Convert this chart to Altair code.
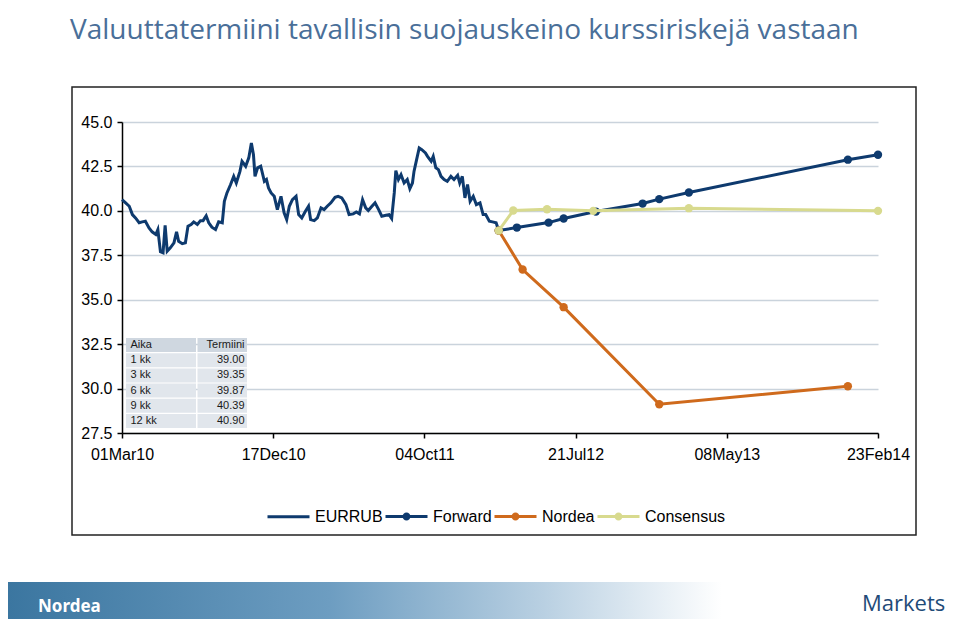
import altair as alt
import pandas as pd

# ---------------- data ----------------
eur_dates = [
    "2010-03-01", "2010-03-08", "2010-03-15", "2010-03-21", "2010-03-27", "2010-04-03",
    "2010-04-09", "2010-04-15", "2010-04-22", "2010-04-28", "2010-05-05", "2010-05-09",
    "2010-05-14", "2010-05-19", "2010-05-23", "2010-05-27", "2010-06-02", "2010-06-09",
    "2010-06-14", "2010-06-18", "2010-06-25", "2010-07-01", "2010-07-06", "2010-07-12",
    "2010-07-17", "2010-07-24", "2010-07-30", "2010-08-04", "2010-08-10", "2010-08-15",
    "2010-08-21", "2010-08-28", "2010-09-03", "2010-09-10", "2010-09-14", "2010-09-19",
    "2010-09-26", "2010-10-02", "2010-10-07", "2010-10-14", "2010-10-18", "2010-10-25",
    "2010-10-31", "2010-11-05", "2010-11-09", "2010-11-12", "2010-11-17", "2010-11-23",
    "2010-11-30", "2010-12-04", "2010-12-08", "2010-12-13", "2010-12-19", "2010-12-25",
    "2011-01-01", "2011-01-07", "2011-01-12", "2011-01-17", "2011-01-23", "2011-01-30",
    "2011-02-04", "2011-02-10", "2011-02-17", "2011-02-23", "2011-02-27", "2011-03-06",
    "2011-03-12", "2011-03-19", "2011-03-25", "2011-03-31", "2011-04-07", "2011-04-15",
    "2011-04-21", "2011-04-28", "2011-05-06", "2011-05-12", "2011-05-20", "2011-05-26",
    "2011-06-01", "2011-06-07", "2011-06-13", "2011-06-18", "2011-06-25", "2011-07-01",
    "2011-07-08", "2011-07-14", "2011-07-22", "2011-07-28", "2011-08-02", "2011-08-07",
    "2011-08-10", "2011-08-15", "2011-08-20", "2011-08-26", "2011-09-01", "2011-09-06",
    "2011-09-11", "2011-09-14", "2011-09-19", "2011-09-24", "2011-09-29", "2011-10-06",
    "2011-10-10", "2011-10-17", "2011-10-21", "2011-10-26", "2011-10-31", "2011-11-05",
    "2011-11-11", "2011-11-17", "2011-11-24", "2011-11-30", "2011-12-07", "2011-12-11",
    "2011-12-16", "2011-12-21", "2011-12-26", "2011-12-31", "2012-01-06", "2012-01-12",
    "2012-01-19", "2012-01-25", "2012-01-30", "2012-02-06", "2012-02-12", "2012-02-19",
    "2012-02-24",
]
eur_values = [
    40.63, 40.45, 40.26, 39.79, 39.60, 39.33,
    39.38, 39.42, 39.04, 38.82, 38.67, 38.95,
    37.70, 37.64, 39.19, 37.73, 37.92, 38.20,
    38.82, 38.29, 38.15, 38.20, 39.14, 39.23,
    39.38, 39.23, 39.45, 39.45, 39.72, 39.33,
    39.08, 38.95, 39.38, 39.33, 40.54, 41.01,
    41.48, 41.94, 41.57, 42.22, 42.79, 42.51,
    42.98, 43.82, 43.16, 41.94, 42.42, 42.51,
    41.66, 41.76, 41.29, 41.01, 40.82, 40.07,
    40.82, 39.89, 39.51, 40.26, 40.63, 40.82,
    39.79, 39.60, 39.98, 40.26, 39.51, 39.45,
    39.60, 40.17, 40.07, 40.26, 40.45, 40.76,
    40.82, 40.73, 40.35, 39.79, 39.83, 39.94,
    39.83, 40.63, 40.17, 40.02, 40.26, 40.45,
    40.07, 39.70, 39.75, 39.79, 39.57, 41.01,
    42.26, 41.76, 42.04, 41.57, 41.76, 41.25,
    41.57, 42.22, 42.88, 43.54, 43.44, 43.26,
    43.07, 42.79, 43.07, 42.42, 42.32, 41.94,
    41.76, 41.66, 41.94, 41.76, 42.00, 41.57,
    41.94, 40.73, 41.48, 40.54, 40.82, 40.35,
    40.45, 39.79, 39.79, 39.42, 39.38, 39.33,
    38.89,
]

forward_dates = ["2012-02-24", "2012-03-30", "2012-05-30", "2012-06-28", "2012-08-29",
                 "2012-11-27", "2012-12-29", "2013-02-24", "2013-12-27", "2014-02-23"]
forward_values = [38.89, 39.06, 39.34, 39.57, 39.96, 40.41, 40.66, 41.03, 42.88, 43.16]

nordea_dates = ["2012-02-24", "2012-04-10", "2012-06-28", "2012-12-29", "2013-12-27"]
nordea_values = [38.89, 36.70, 34.58, 29.12, 30.13]

consensus_dates = ["2012-02-24", "2012-03-23", "2012-05-27", "2012-08-24", "2013-02-24", "2014-02-23"]
consensus_values = [38.89, 40.02, 40.09, 40.00, 40.15, 40.00]

series_names = ["EURRUB", "Forward", "Nordea", "Consensus"]
series_colors = ["#0e3a6e", "#0e3a6e", "#cf6a1c", "#d8da8e"]

table_labels = ["Aika", "1 kk", "3 kk", "6 kk", "9 kk", "12 kk"]
table_values = ["Termiini", "39.00", "39.35", "39.87", "40.39", "40.90"]

x_tick_dates = ["2010-03-01", "2010-12-17", "2011-10-04", "2012-07-21", "2013-05-08", "2014-02-23"]
y_ticks = [27.5, 30.0, 32.5, 35.0, 37.5, 40.0, 42.5, 45.0]

title_text = "Valuuttatermiini tavallisin suojauskeino kurssiriskejä vastaan"

# ---------------- frames ----------------
def frame(dates, values, name):
    return pd.DataFrame({"date": pd.to_datetime(dates), "value": values, "series": name})

df_eur = frame(eur_dates, eur_values, "EURRUB")
df_fc = pd.concat([
    frame(forward_dates, forward_values, "Forward"),
    frame(nordea_dates, nordea_values, "Nordea"),
    frame(consensus_dates, consensus_values, "Consensus"),
], ignore_index=True)
df_tab = pd.DataFrame({"label": table_labels, "value": table_values})

def dt(s):
    t = pd.Timestamp(s)
    return alt.DateTime(year=t.year, month=t.month, date=t.day)

FONT = "Liberation Sans"
W, H = 756, 311

x_enc = alt.X(
    "date:T",
    scale=alt.Scale(domain=[dt(x_tick_dates[0]), dt(x_tick_dates[-1])]),
    axis=alt.Axis(values=[dt(d) for d in x_tick_dates], format="%d%b%y", grid=False,
                  title=None, labelFont=FONT, labelFontSize=16, labelColor="black",
                  labelPadding=8, tickSize=5, tickColor="black", tickWidth=1.5,
                  domainColor="black", domainWidth=1.5, labelOverlap=False,
                  labelFlush=False, labelBound=False),
)
y_enc = alt.Y(
    "value:Q",
    scale=alt.Scale(domain=[27.5, 45.0], nice=False, zero=False),
    axis=alt.Axis(values=y_ticks, format=".1f", grid=True, gridColor="#cad3dc",
                  gridWidth=1.5, title=None, labelFont=FONT, labelFontSize=16,
                  labelColor="black", labelPadding=5, tickSize=5, tickColor="black",
                  tickWidth=1.5, domainColor="black", domainWidth=1.5),
)
color_scale = alt.Scale(domain=series_names, range=series_colors)
color_nolegend = alt.Color("series:N", scale=color_scale, legend=None)

eur_line = alt.Chart(df_eur).mark_line(strokeWidth=3).encode(x=x_enc, y=y_enc, color=color_nolegend)

fc_layers = []
for name in ["Forward", "Nordea", "Consensus"]:
    base = alt.Chart(df_fc).transform_filter(alt.datum.series == name)
    fc_layers.append(base.mark_line(strokeWidth=3).encode(x=x_enc, y=y_enc, color=color_nolegend))
    fc_layers.append(base.mark_circle(size=70, opacity=1).encode(x=x_enc, y=y_enc, color=color_nolegend))

main = alt.layer(eur_line, *fc_layers)

# legend only layer (draws no marks), custom line / line+dot symbols
path_line = "M-1,0L1,0"
path_dot = ("M-1,0L1,0"
            "M0.119,0A0.119,0.119,0,1,1,-0.119,0A0.119,0.119,0,1,1,0.119,0"
            "M0.048,0A0.048,0.048,0,1,1,-0.048,0A0.048,0.048,0,1,1,0.048,0")
leg = alt.Legend(orient="none", legendX=144, legendY=372, direction="horizontal",
                 labelFont=FONT, labelFontSize=16, labelColor="black", labelOffset=4,
                 columnPadding=-4, symbolSize=1764, symbolStrokeWidth=3, symbolOpacity=1)
legend_layer = alt.Chart(df_fc).transform_filter("false").mark_point(
    filled=False, strokeWidth=3, opacity=1, size=1764
).encode(
    color=alt.Color("series:N", scale=color_scale, legend=leg, title=None),
    shape=alt.Shape("series:N", scale=alt.Scale(domain=series_names,
                    range=[path_line, path_dot, path_dot, path_dot]), legend=leg, title=None),
)

# ---------------- small table ----------------
row_y = alt.Y("label:N", sort=table_labels,
              scale=alt.Scale(type="band", domain=table_labels, range=[216, 306],
                              paddingInner=0.08, paddingOuter=0), axis=None)
cell_fill = alt.condition(alt.datum.label == "Aika", alt.value("#cfd7e0"), alt.value("#e1e6ec"))
tab_base = alt.Chart(df_tab)
tab_left = tab_base.mark_rect().encode(y=row_y, x=alt.value(4), x2=alt.value(74), color=cell_fill)
tab_right = tab_base.mark_rect().encode(y=row_y, x=alt.value(75.5), x2=alt.value(125), color=cell_fill)
tab_txt_l = tab_base.mark_text(align="left", baseline="middle", font=FONT, fontSize=11,
                               color="#1a1a1a").encode(y=row_y, x=alt.value(8.5), text="label:N")
tab_txt_r = tab_base.mark_text(align="right", baseline="middle", font=FONT, fontSize=11,
                               color="#1a1a1a").encode(y=row_y, x=alt.value(122.5), text="value:N")
table = alt.layer(tab_left, tab_right, tab_txt_l, tab_txt_r)

# ---------------- slide decoration ----------------
one = alt.Data(values=[{"k": 0}])
frame_box = alt.Chart(one).mark_rect(fill="transparent", stroke="#222222", strokeWidth=1.5).encode(
    x=alt.value(-50), x2=alt.value(794), y=alt.value(-35), y2=alt.value(413))
title = alt.Chart(one).mark_text(text=title_text, align="left", baseline="alphabetic",
                                 font="Open Sans", fontSize=28, color="#4a6f99").encode(
    x=alt.value(-52), y=alt.value(-83))
band = alt.Chart(one).mark_rect(
    fill=alt.LinearGradient(gradient="linear", x1=0, x2=1, y1=0, y2=0, stops=[
        alt.GradientStop(offset=0, color="#3b76a0"),
        alt.GradientStop(offset=0.45, color="#6d9dc1"),
        alt.GradientStop(offset=0.75, color="#b9d0e2"),
        alt.GradientStop(offset=1, color="#ffffff"),
    ])).encode(x=alt.value(-114), x2=alt.value(600), y=alt.value(460), y2=alt.value(497))
nordea_txt = alt.Chart(one).mark_text(text="Nordea", align="left", baseline="alphabetic",
                                      font="Noto Sans", fontSize=17, fontWeight="bold",
                                      color="white").encode(
    x=alt.value(-84), y=alt.value(490))
markets_txt = alt.Chart(one).mark_text(text="Markets", align="left", baseline="alphabetic",
                                       font="Open Sans", fontSize=22, color="#1f4b78").encode(
    x=alt.value(740), y=alt.value(489))

chart = alt.layer(frame_box, band, title, nordea_txt, markets_txt, main, table, legend_layer).resolve_scale(
    y="independent", color="independent", shape="independent"
).properties(
    width=W, height=H,
    padding={"left": 114, "top": 114, "right": 73, "bottom": 186},
    autosize=alt.AutoSizeParams(type="none"),
).configure_view(strokeWidth=0)

chart.save("out.html", embed_options={"renderer": "svg", "actions": False})
